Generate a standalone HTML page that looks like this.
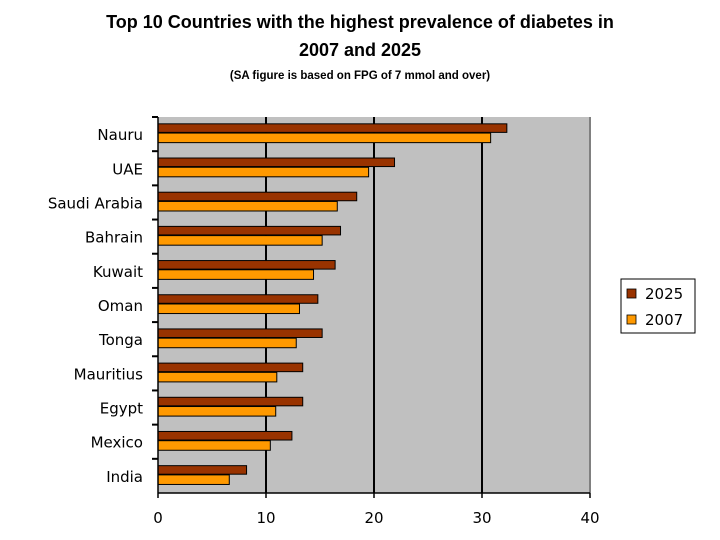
<!DOCTYPE html>
<html><head><meta charset="utf-8"><style>
body{margin:0;background:#fff;width:720px;height:540px;overflow:hidden}
svg{display:block}
</style></head><body>
<svg id="c" width="720" height="540" xmlns="http://www.w3.org/2000/svg">
<text x="360" y="28" text-anchor="middle" font-family="Liberation Sans, sans-serif" font-size="18" font-weight="bold">Top 10 Countries with the highest prevalence of diabetes in</text>
<text x="360" y="56" text-anchor="middle" font-family="Liberation Sans, sans-serif" font-size="18" font-weight="bold">2007 and 2025</text>
<text x="360" y="79" text-anchor="middle" font-family="Liberation Sans, sans-serif" font-size="11.5" font-weight="bold">(SA figure is based on FPG of 7 mmol and over)</text>
<g id="plot"></g>
<g>
<rect x="621" y="279" width="74" height="54" fill="#fff" stroke="#000"/>
<rect x="627" y="289" width="9" height="9" fill="#993300" stroke="#000" stroke-width="0.8"/>
<text x="645" y="299" font-family="DejaVu Sans, sans-serif" font-size="15">2025</text>
<rect x="627" y="315" width="9" height="9" fill="#ff9900" stroke="#000" stroke-width="0.8"/>
<text x="645" y="325" font-family="DejaVu Sans, sans-serif" font-size="15">2007</text>
</g>
</svg>
<script>
const categories=["Nauru","UAE","Saudi Arabia","Bahrain","Kuwait","Oman","Tonga","Mauritius","Egypt","Mexico","India"];
const values2025=[32.3,21.9,18.4,16.9,16.4,14.8,15.2,13.4,13.4,12.4,8.2];
const values2007=[30.8,19.5,16.6,15.2,14.4,13.1,12.8,11.0,10.9,10.4,6.6];
const xTicks=[0,10,20,30,40];
const NS="http://www.w3.org/2000/svg";
const L=158,R=590,T=117,B=493,band=(B-T)/categories.length;
const x=v=>L+(v/40)*(R-L);
const g=document.getElementById('plot');
function mk(t,a){const e=document.createElementNS(NS,t);for(const k in a)e.setAttribute(k,a[k]);g.appendChild(e);return e;}
let e=mk('rect',{x:L,y:T,width:R-L,height:B-T,fill:'#c0c0c0'});


xTicks.forEach((t,i)=>{
  if(i>0){const l=mk('line',{x1:x(t),x2:x(t),y1:T,y2:B,stroke:i==4?'#808080':'#000','stroke-width':2});
  
  }
  const tk=mk('line',{x1:x(t),x2:x(t),y1:B,y2:B+5,stroke:'#000','stroke-width':1.5});
  
  
  const tx=mk('text',{x:x(t),y:B+30,'text-anchor':'middle','font-family':'DejaVu Sans, sans-serif','font-size':15});
  tx.textContent=t;
  
  
});
categories.forEach((c,i)=>{
  const y0=T+i*band;
  const b1=mk('rect',{x:L,y:y0+band*0.2,width:x(values2025[i])-L,height:band*0.25,fill:'#993300',stroke:'#000','stroke-width':1});
  
  
  const b2=mk('rect',{x:L,y:y0+band*0.47,width:x(values2007[i])-L,height:band*0.28,fill:'#ff9900',stroke:'#000','stroke-width':1});
  
  
  const tx=mk('text',{x:143,y:y0+band/2+6,'text-anchor':'end','font-family':'DejaVu Sans, sans-serif','font-size':15});
  tx.textContent=c;
  
  
  const tk=mk('line',{x1:L-6,x2:L,y1:y0,y2:y0,stroke:'#000','stroke-width':2});
  
  
});
const ya=mk('line',{x1:L,x2:L,y1:T,y2:B,stroke:'#000','stroke-width':1.5});


const xa=mk('line',{x1:L,x2:R,y1:B,y2:B,stroke:'#000','stroke-width':1.5});


</script>
</body></html>
